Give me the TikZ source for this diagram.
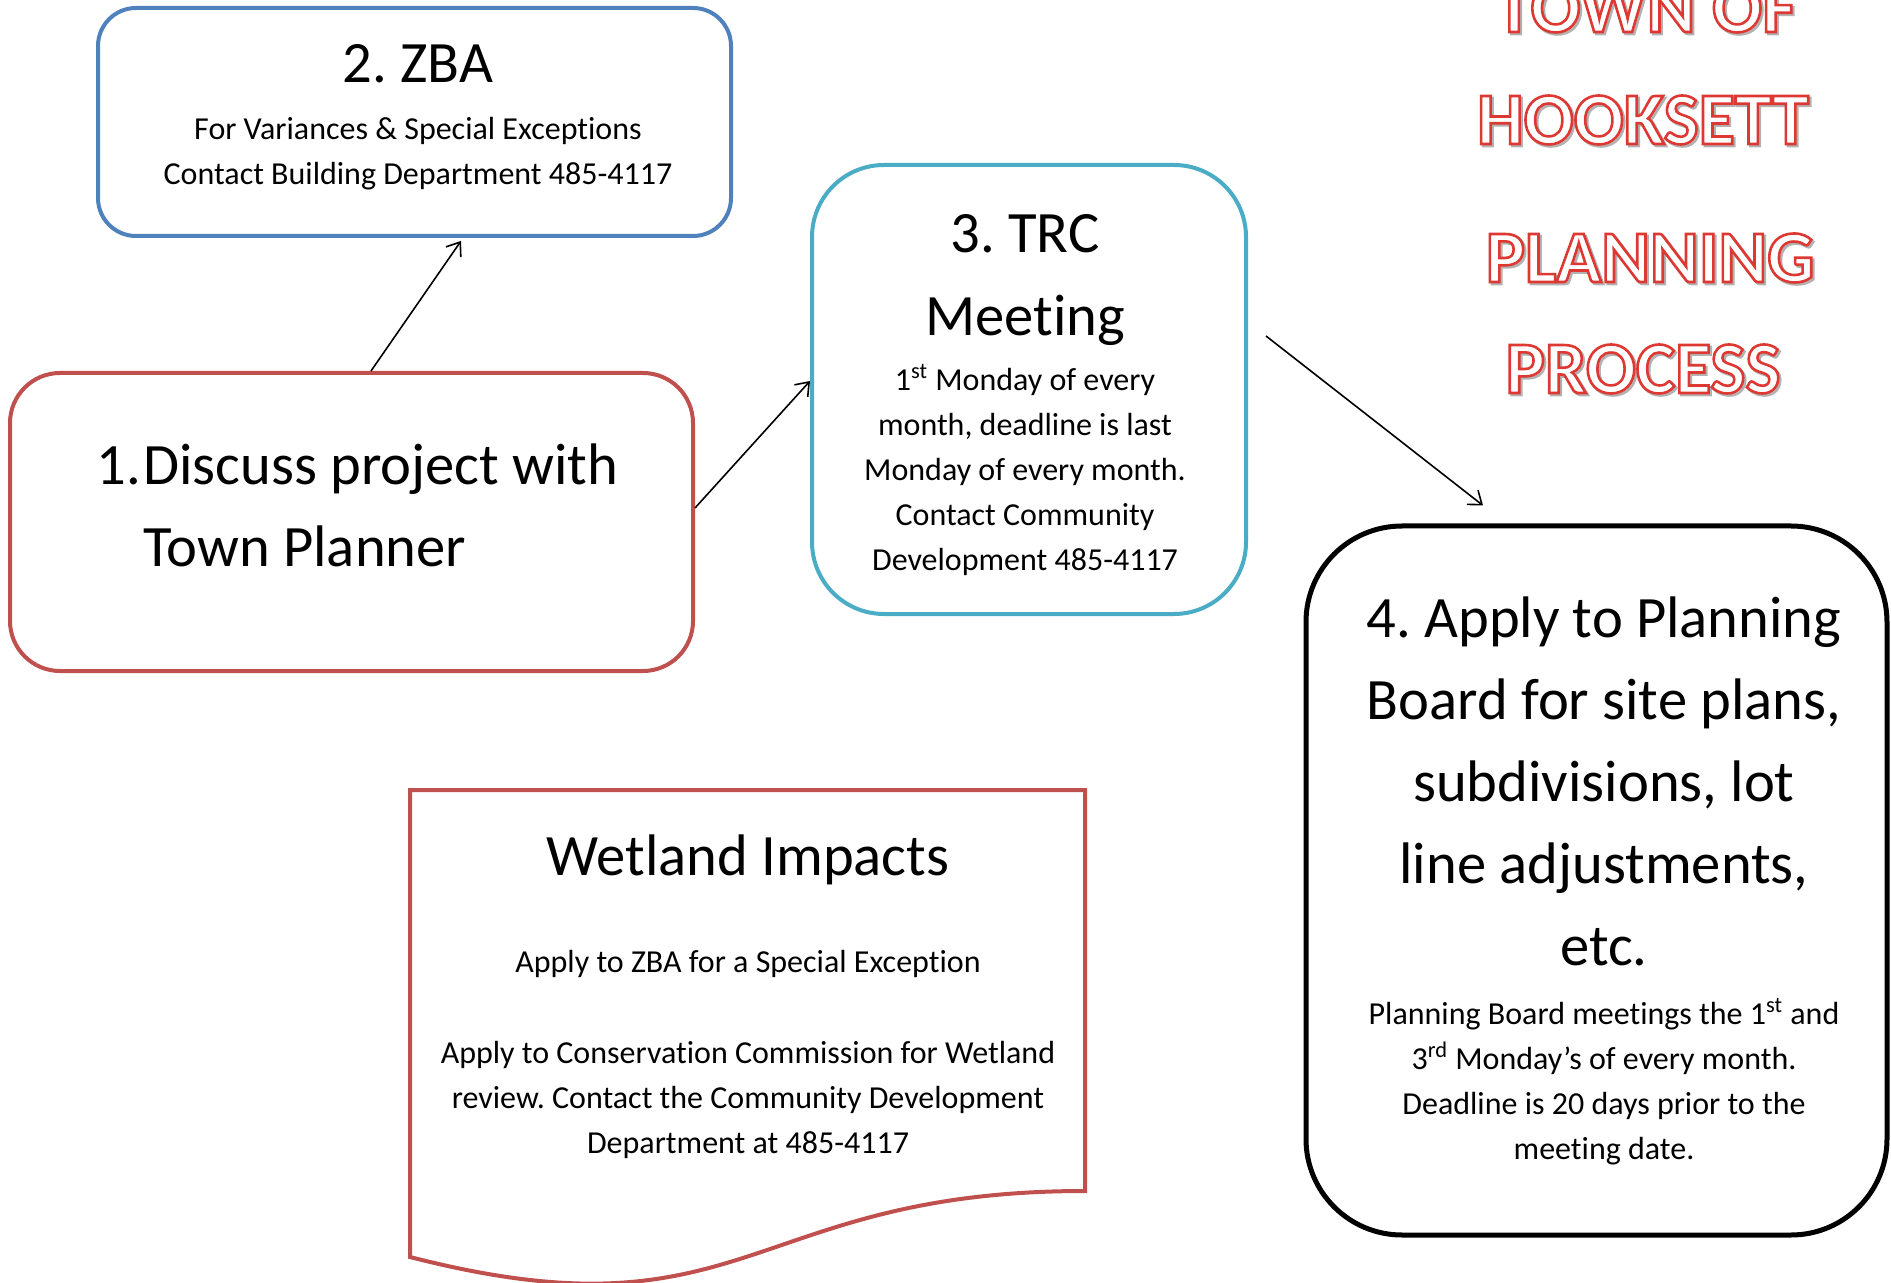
\documentclass[tikz,border=0pt]{standalone}
\usepackage{fontspec}
\setmainfont{Carlito}[Ligatures=NoCommon]
\usepackage{xcolor}
\usetikzlibrary{arrows.meta}
\frenchspacing

\definecolor{zbablue}{RGB}{79,129,189}
\definecolor{boxred}{RGB}{192,80,77}
\definecolor{trcteal}{RGB}{75,172,198}

\newcommand{\bigfont}{\fontsize{29.3}{41}\selectfont}
\newcommand{\smallfont}{\fontsize{16}{22.5}\selectfont}
\newcommand{\outlined}[1]{\leavevmode\rlap{\kern1pt\raisebox{-1pt}{\textcolor{black!30}{\special{pdf:literal direct 1 Tr 1.3 w}#1\special{pdf:literal direct 0 Tr}}}}\textcolor{white}{\special{pdf:literal direct 2 Tr 1.3 w 0.87 0.22 0.2 RG}#1\special{pdf:literal direct 0 Tr}}}

\begin{document}
\begin{tikzpicture}[x=0.5pt,y=-0.5pt]
		\tikzstyle{every node}+=[inner sep=0pt]
		\tikzstyle{roundbox}=[draw, rectangle, line width=2pt]
		\tikzstyle{flowarrow}=[line width=0.8pt, -{Straight Barb[length=6pt,width=9pt]}]
		\tikzstyle{titleword}=[anchor=base, font=\fontsize{37}{40}\selectfont\bfseries]
		\useasboundingbox (0,0) rectangle (1891,1283);
		% boxes
		\node [roundbox, draw=zbablue, rounded corners=19pt, minimum width=316.5pt, minimum height=114pt] (zba) at (414.5,122) {};
		\node [roundbox, draw=boxred, rounded corners=25pt, minimum width=341.5pt, minimum height=149pt] (discuss) at (351.5,522) {};
		\node [roundbox, draw=trcteal, rounded corners=36pt, minimum width=217pt, minimum height=224.5pt] (trc) at (1029,389.5) {};
		\node [roundbox, draw=black, line width=2.5pt, rounded corners=48pt, minimum width=290.5pt, minimum height=354.5pt] (apply) at (1596.5,880.5) {};
		\draw [boxred, line width=2pt] (410,790) -- (1085,790) -- (1085,1191)
			.. controls (747.5,1191) and (747.5,1343.7) .. (410,1257) -- cycle;
		% texts
		\node [align=center, font=\smallfont] (zbatext) at (418,117) {{\bigfont 2. ZBA}\\[6pt]For Variances \& Special Exceptions\\Contact Building Department 485-4117};
		\node [align=left, anchor=west, font=\bigfont] (discusstext) at (96,505.5) {\makebox[23.5pt][l]{1.}Discuss project with\\\hspace*{23.5pt}Town Planner};
		\node [align=center, font=\smallfont] (trctext) at (1025,395.5) {{\bigfont 3. TRC}\\[19pt]{\bigfont Meeting}\\[5pt]1\textsuperscript{st} Monday of every\\month, deadline is last\\Monday of every month.\\Contact Community\\Development 485-4117};
		\node [align=center, font=\bigfont] (applytext) at (1604,881) {4. Apply to Planning\\Board for site plans,\\subdivisions, lot\\line adjustments,\\etc.\\[-11.5pt]{\smallfont Planning Board meetings the 1\textsuperscript{st} and}\\[-18.5pt]{\smallfont 3\textsuperscript{rd} Monday’s of every month.}\\[-18.5pt]{\smallfont Deadline is 20 days prior to the}\\[-18.5pt]{\smallfont meeting date.}};
		\node [align=center, font=\smallfont] (wetlandtext) at (748,997) {{\bigfont Wetland Impacts}\\[26pt]Apply to ZBA for a Special Exception\\[23pt]Apply to Conservation Commission for Wetland\\review. Contact the Community Development\\Department at 485-4117};
		% title
		\node [titleword] (town) at (1646,32) {\outlined{TOWN OF}};
		\node [titleword] (hooksett) at (1643,144) {\outlined{HOOKSETT}};
		\node [titleword] (planning) at (1650,282) {\outlined{PLANNING}};
		\node [titleword] (process) at (1643,393) {\outlined{PROCESS}};
		% arrows
		\coordinate (trcout) at ([xshift=9pt,yshift=26.75pt]trc.east);
		\draw [flowarrow] ([xshift=9.75pt]discuss.north) -- ([xshift=23.25pt,yshift=-1.5pt]zba.south);
		\draw [flowarrow] ([yshift=7pt]discuss.east) -- ([yshift=4.25pt]trc.west);
		\draw [flowarrow] (trcout) -- ([xshift=-56.75pt,yshift=9pt]apply.north);
\end{tikzpicture}
\end{document}
